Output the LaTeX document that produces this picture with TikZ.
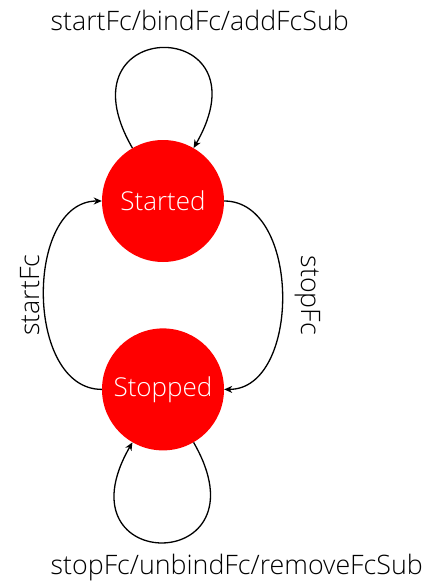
\documentclass[tikz,border=0pt]{standalone}
\usepackage{fontspec}
\setmainfont{Open Sans}[UprightFont=* Light]
\usetikzlibrary{positioning,arrows.meta}
\tikzset{
	fc state machine/.style={
		x=1pt,y=1pt,
		node distance=66pt,
		font=\fontsize{26.8}{31}\selectfont,
		transition/.style={
			line width=1.3pt,
			-{Stealth[length=8pt,width=7pt,inset=2.5pt]}
		},
		self loop/.style={
			transition,
			distance=154pt
		},
		side label/.style={
			sloped,
			midway,
			inner sep=0pt
		}
	},
	state/.style={
		circle,
		fill=red,
		text=white,
		font=\fontsize{26}{30}\selectfont,
		minimum size=122pt,
		inner sep=0pt
	},
	loop label/.style={
		midway,
		anchor=base west,
		inner sep=0pt
	}
}

\begin{document}
\begin{tikzpicture}[fc state machine]
	\useasboundingbox (0,0) rectangle (428,-581);
	% states
	\node[state] (started) at (163,-201) {Started};
	\node[state,below=of started] (stopped) {Stopped};
	% self loops
	\draw[self loop] (started.120) to[out=120,in=60]
		node[loop label,xshift=-113pt,yshift=17pt] {startFc/bindFc/addFcSub} (started.60);
	\draw[self loop] (stopped.-60) to[out=-60,in=-120]
		node[loop label,xshift=-113pt,yshift=-32pt] {stopFc/unbindFc/removeFcSub} (stopped.-120);
	% between the states
	\draw[transition] (started.east) to[out=0,in=0,looseness=1.05]
		node[side label,above=12pt] {stopFc} (stopped.east);
	\draw[transition] (stopped.west) to[out=180,in=180,looseness=1.05]
		node[side label,above=4pt] {startFc} (started.west);
\end{tikzpicture}
\end{document}
